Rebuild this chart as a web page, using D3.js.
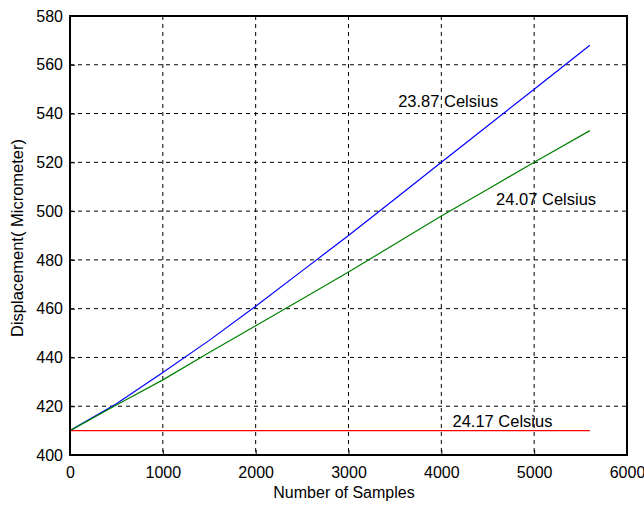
<!DOCTYPE html>
<html>
<head>
<meta charset="utf-8">
<script src="https://cdn.jsdelivr.net/npm/d3@7"></script>
<style>
  body { margin: 0; background: #fff; }
  text { font-family: "Liberation Sans", Arial, sans-serif; }
</style>
</head>
<body>
<script>
// data
const samples = [0, 500, 1000, 1500, 2000, 2500, 3000, 3500, 4000, 4500, 5000, 5600];
const blueVals = [410, 421, 433.8, 447, 461, 475.5, 490, 505, 520, 535, 550, 568];
const greenVals = [410, 420.5, 430.8, 442, 453, 464, 475, 486.5, 498, 509, 520, 533];
const redVals = [410, 410, 410, 410, 410, 410, 410, 410, 410, 410, 410, 410];
const seriesNames = ["23.87 Celsius", "24.07 Celsius", "24.17 Celsius"];
const xTicks = [0, 1000, 2000, 3000, 4000, 5000, 6000];
const yTicks = [400, 420, 440, 460, 480, 500, 520, 540, 560, 580];

const margin = { top: 16, bottom: 51, left: 70, right: 17 };
const W = 644, H = 506;
const width = W - margin.left - margin.right;
const height = H - margin.top - margin.bottom;

const svg = d3.select("body").append("svg").attr("width", W).attr("height", H);
const g = svg.append("g").attr("transform", `translate(${margin.left},${margin.top})`);

const xscale = d3.scaleLinear().domain([0, 6000]).range([0, width]);
const yscale = d3.scaleLinear().domain([400, 580]).range([height, 0]);

// grid
g.append("g").selectAll("line").data(xTicks.slice(1, -1)).join("line")
  .attr("x1", d => xscale(d)).attr("x2", d => xscale(d))
  .attr("y1", 0).attr("y2", height)
  .attr("stroke", "#000").attr("stroke-dasharray", "4,4");
g.append("g").selectAll("line").data(yTicks.slice(1, -1)).join("line")
  .attr("y1", d => yscale(d)).attr("y2", d => yscale(d))
  .attr("x1", 0).attr("x2", width)
  .attr("stroke", "#000").attr("stroke-dasharray", "4,4");

// lines
const line = d3.line().x((d, i) => xscale(samples[i])).y(d => yscale(d));
const colors = ["#0000ff", "#008000", "#ff0000"];
[blueVals, greenVals, redVals].forEach((vals, i) => {
  g.append("path").attr("d", line(vals))
    .attr("fill", "none").attr("stroke", colors[i]).attr("stroke-width", 1.2);
});

// frame
g.append("rect").attr("width", width).attr("height", height)
  .attr("fill", "none").attr("stroke", "#000").attr("stroke-width", 2);

// axes
const fmt = d3.format("d");
const xaxis = d3.axisBottom(xscale).tickValues(xTicks).tickFormat(fmt).tickSize(-5).tickPadding(8);
const yaxis = d3.axisLeft(yscale).tickValues(yTicks).tickFormat(fmt).tickSize(-5).tickPadding(7);
const gx = g.append("g").attr("transform", `translate(0,${height})`).call(xaxis);
const gy = g.append("g").call(yaxis);
[gx, gy].forEach(a => {
  a.select(".domain").remove();
  a.selectAll("text").attr("font-size", 16).attr("fill", "#000")
    .attr("font-family", "Liberation Sans, Arial, sans-serif");
});
gx.selectAll("text").attr("dy", "0.95em");

// series labels
const labelPos = [[3535, 542.7], [4590, 502.5], [4120, 411.5]];
seriesNames.forEach((n, i) => {
  g.append("text").attr("x", xscale(labelPos[i][0])).attr("y", yscale(labelPos[i][1]))
    .attr("font-size", 16.5).attr("fill", "#000").text(n);
});

// axis titles
svg.append("text").attr("x", 344).attr("y", 498)
  .attr("text-anchor", "middle").attr("font-size", 16).text("Number of Samples");
svg.append("text").attr("transform", `translate(23,238) rotate(-90)`)
  .attr("text-anchor", "middle").attr("font-size", 16.5).text("Displacement( Micrometer)");
</script>
</body>
</html>
